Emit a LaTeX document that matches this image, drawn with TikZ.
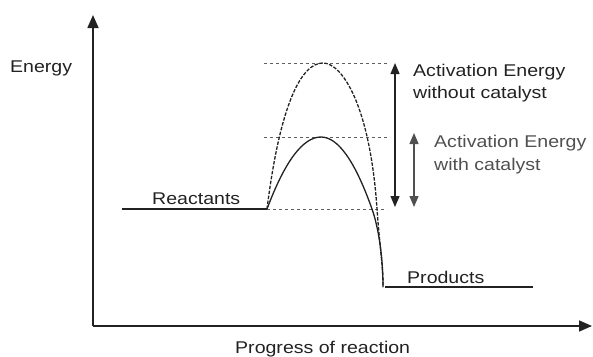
\documentclass[tikz,border=0pt]{standalone}
\usepackage{fontspec}
\setmainfont{Liberation Sans}[FakeStretch=1.15]
\usetikzlibrary{arrows.meta}
\definecolor{ink}{HTML}{222222}
\definecolor{inkgray}{HTML}{505050}
\definecolor{dashgray}{HTML}{606060}
\begin{document}
\begin{tikzpicture}[x=1pt,y=-1pt,
  lbl/.style={inner sep=0pt,anchor=base west,font=\fontsize{17}{20}\selectfont,text=ink},
  axis/.style={draw=ink,line width=1.6pt,-{Triangle[width=11pt,length=13pt]}},
  level/.style={draw=ink,line width=1.2pt},
  guide/.style={draw=dashgray,line width=0.8pt,dash pattern=on 3pt off 3pt},
  curvesolid/.style={draw=ink,line width=1.3pt},
  curvedash/.style={draw=ink,line width=1.3pt,dash pattern=on 3.5pt off 1.5pt},
  dimarrow/.style={line width=1.3pt,{Triangle[width=9pt,length=11pt]}-{Triangle[width=9pt,length=11pt]}}
]
\useasboundingbox (0,0) rectangle (593,356);
% coordinates
\coordinate (origin) at (93,326);
\coordinate (ytip) at (93,15);
\coordinate (xtip) at (592,326);
\coordinate (r0) at (122,209);
\coordinate (r1) at (267,209);
\coordinate (p0) at (385,287);
\coordinate (p1) at (533,287);
\coordinate (pend) at (383,287);
\coordinate (peakA) at (323,63);
\coordinate (peakB) at (321,137);
\coordinate (dA) at (377,209);
\coordinate (dB) at (372,209);
\coordinate (gt0) at (264,63);
\coordinate (gt1) at (387,63);
\coordinate (gm0) at (264,137);
\coordinate (gm1) at (389,137);
\coordinate (gb1) at (387,209);
\coordinate (a1t) at (395,63);
\coordinate (a1b) at (395,207);
\coordinate (a2t) at (414,133);
\coordinate (a2b) at (414,207);
% axes
\draw[axis] (origin) -- (ytip);
\draw[axis] (origin) -- (xtip);
% levels
\draw[level] (r0) -- (r1);
\draw[level] (p0) -- (p1);
% guides
\draw[guide] (gt0) -- (gt1);
\draw[guide] (gm0) -- (gm1);
\draw[guide] (r1) -- (gb1);
% curves
\draw[curvedash] (r1) .. controls (280,105) and (301,63) .. (peakA)
  .. controls (342,63) and (370,105) .. (dA)
  .. controls (380,250) and (383,265) .. (pend);
\draw[curvesolid] (r1) .. controls (285,161) and (303,137) .. (peakB)
  .. controls (338,137) and (355,161) .. (dB)
  .. controls (378,226) and (383,255) .. (pend);
% arrows
\draw[dimarrow,draw=ink,fill=ink] (a1t) -- (a1b);
\draw[dimarrow,draw=inkgray,fill=inkgray] (a2t) -- (a2b);
% labels
\node[lbl] (energy) at (10,72) {Energy};
\node[lbl] (react) at (152,204) {Reactants};
\node[lbl] (prod) at (407,283) {Products};
\node[lbl] (ea1) at (413,76) {Activation Energy};
\node[lbl] (ea1b) at (413,98) {without catalyst};
\node[lbl,text=inkgray] (ea2) at (434,147) {Activation Energy};
\node[lbl,text=inkgray] (ea2b) at (434,170) {with catalyst};
\node[lbl] (progress) at (235,353) {Progress of reaction};
\end{tikzpicture}
\end{document}
